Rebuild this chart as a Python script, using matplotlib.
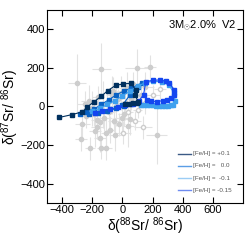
import matplotlib
matplotlib.use("Agg")
import matplotlib.pyplot as plt
import numpy as np

plt.rcParams['font.family'] = ['Liberation Sans', 'DejaVu Sans']
plt.rcParams['mathtext.fontset'] = 'custom'
plt.rcParams['mathtext.rm'] = 'Liberation Sans'
plt.rcParams['mathtext.it'] = 'Liberation Sans:italic'
plt.rcParams['mathtext.bf'] = 'Liberation Sans:bold'

# grain data (filled)
grain_x = [-302, -139, 97, 180, 227, -276, -215, -150, -141, -106, -265, -167, -58, -25, 51,
           -222, -163, -60, 29, 73, -190, -120, -80, 10, -30, 60, -100, 120, -240, -150, -50,
           -200, -170, -130, -90, -40, 0, 40, -10, -110, -70, 150, 20, -250, -180]
grain_y = [122, 196, 197, 206, -150, -169, -216, -164, -213, -218, -92, -109, -74, -92, -66,
           30, 47, 80, 96, 116, -40, -60, -120, -40, 40, 40, 20, 60, -50, -80, -150,
           -10, -70, 10, -30, 0, -60, -100, 70, -140, 60, 100, 20, 10, -130]
grain_xerr = [60, 60, 80, 40, 70, 40, 30, 40, 30, 40, 50, 40, 40, 40, 40,
              50, 40, 40, 50, 40, 40, 50, 30, 40, 30, 40, 40, 50, 40, 30, 40,
              60, 40, 50, 40, 50, 60, 40, 40, 30, 40, 60, 50, 50, 40]
grain_yerr = [150, 130, 100, 60, 150, 60, 60, 70, 60, 60, 80, 60, 60, 60, 80,
              80, 60, 70, 80, 60, 60, 70, 70, 60, 50, 60, 60, 70, 60, 50, 80,
              90, 100, 120, 80, 100, 90, 110, 90, 80, 100, 80, 90, 70, 80]
# grain data (open)
open_x = [138, 7, 84, 40, 150, 200, 100, 250]
open_y = [-109, -137, -74, -30, 20, 60, -20, 90]
open_xerr = [60, 50, 40, 30, 40, 50, 30, 40]
open_yerr = [60, 60, 50, 40, 60, 50, 40, 50]

# model curves
feh_labels = ['[Fe/H] = +0.1', '[Fe/H] =   0.0', '[Fe/H] =  -0.1', '[Fe/H] = -0.15']
m_p01_x = [20, 45, 70, 95, 105, 84, 90, 55, 3, -45, -97, -141, -189, -232, -265, -337, -418]
m_p01_y = [12, 15, 18, 20, 22, 59, 85, 120, 116, 109, 82, 52, 24, -2, -28, -43, -57]
m_000_x = [0, 50, 100, 130, 60, 10, -40, -90, -140, -190, -240, -280, -220, -160, -100, -40, 10, 60]
m_000_y = [5, 60, 100, 122, 95, 80, 60, 35, 10, -15, -30, -38, -40, -35, -25, -10, 0, 10]
m_m01_x = [-200, -150, -100, -50, 0, 50, 100, 150, 200, 260, 310, 340, 350, 335, 320, 300, 280,
           260, 240, 220, 200, 180, 160, 140, 120]
m_m01_y = [-25, -10, 10, 30, 55, 80, 105, 122, 130, 128, 110, 70, 30, 8, 5, 4, 4,
           3, 4, 4, 5, 5, 6, 7, 8]
m_m015_x = [-180, -134, -80, -30, 20, 70, 110, 140, 155, 200, 247, 290, 312, 345, 340, 323, 295,
            268, 230, 190, 160]
m_m015_y = [-35, -22, -14, -5, 5, 15, 30, 60, 128, 135, 137, 130, 120, 85, 60, 44, 35,
            30, 25, 28, 33]

marker_cols = ['#00305e', '#0a62c4', '#3ea0ee', '#1446f0']
legend_cols = ['#3b5a85', '#5b9ee6', '#9ccdf5', '#6f8cf0']

fig = plt.figure(figsize=(2.49, 2.41), dpi=100)
ax = fig.add_axes([0.189, 0.158, 0.787, 0.801])

ax.errorbar(grain_x, grain_y, xerr=grain_xerr, yerr=grain_yerr, fmt='o', ms=3,
            color='#cdcdcd', ecolor='#e2e2e2', elinewidth=0.8, capsize=0, zorder=1)
ax.errorbar(open_x, open_y, xerr=open_xerr, yerr=open_yerr, fmt='o', ms=3,
            mfc='white', mec='#cdcdcd', ecolor='#e2e2e2', elinewidth=0.8, capsize=0, zorder=1)

curves = [(m_p01_x, m_p01_y), (m_000_x, m_000_y), (m_m01_x, m_m01_y), (m_m015_x, m_m015_y)]
zords = [5, 3, 4, 4.5]
for (cx, cy), mc, z in zip(curves, marker_cols, zords):
    ax.plot(cx, cy, '-s', color=mc, ms=3.3, lw=0.8, zorder=z)

for i, (lab, lc) in enumerate(zip(feh_labels, legend_cols)):
    yy = 0.255 - i * 0.063
    ax.plot([0.67, 0.735], [yy, yy], transform=ax.transAxes, color=lc, lw=1.0)
    ax.text(0.745, yy, lab, transform=ax.transAxes, fontsize=4.5, color='#555555',
            va='center', ha='left')

ax.text(0.965, 0.915, r'3M$_{\odot}$2.0%  V2', transform=ax.transAxes, fontsize=8,
        ha='right', va='center')

ax.set_xlim(-500, 800)
ax.set_ylim(-500, 500)
ax.set_xticks([-400, -200, 0, 200, 400, 600])
ax.set_yticks([-400, -200, 0, 200, 400])
ax.tick_params(direction='in', top=True, right=True, length=4, width=0.8, labelsize=8, pad=1.5)
for s in ax.spines.values():
    s.set_linewidth(0.8)
ax.set_xlabel(r'δ($^{88}$Sr/ $^{86}$Sr)', fontsize=10, labelpad=0)
ax.set_ylabel(r'δ($^{87}$Sr/ $^{86}$Sr)', fontsize=10, labelpad=-1)

fig.savefig('out.png', dpi=100)
